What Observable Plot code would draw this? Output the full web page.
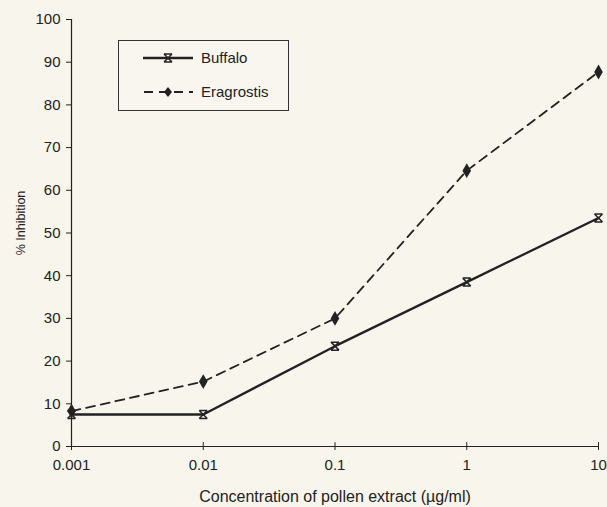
<!DOCTYPE html>
<html>
<head>
<meta charset="utf-8">
<script src="https://cdn.jsdelivr.net/npm/d3@7"></script>
<script src="https://cdn.jsdelivr.net/npm/@observablehq/plot@0.6"></script>
<style>
  html, body { margin: 0; padding: 0; background: #f7f5ec; }
  #wrap { position: relative; width: 607px; height: 507px; font-family: "Liberation Sans", Arial, sans-serif; color: #222; }
  #legend { position: absolute; left: 118px; top: 40px; width: 171px; height: 71px; border: 1px solid #333; box-sizing: border-box; background: #f8f6ef; }
  .row { position: absolute; left: 24px; display: flex; align-items: center; font-size: 15px; }
  .row svg { margin-right: 8px; }
</style>
</head>
<body>
<div id="wrap"></div>
<script>
const concentrations = [0.001, 0.01, 0.1, 1, 10];
const buffalo = [7.5, 7.5, 23.5, 38.5, 53.5];
const eragrostis = [8.3, 15.2, 30, 64.6, 87.7];
const seriesNames = ["Buffalo", "Eragrostis"];
const xTickLabels = ["0.001", "0.01", "0.1", "1", "10"];
const yTicks = [0, 10, 20, 30, 40, 50, 60, 70, 80, 90, 100];

const ink = "#222";

const hourglass = {
  draw(context, size) {
    const r = Math.sqrt(size / Math.PI);
    context.moveTo(-r, -r); context.lineTo(r, r);
    context.moveTo(r, -r); context.lineTo(-r, r);
    context.moveTo(-r, -r); context.lineTo(r, -r);
    context.moveTo(-r, r); context.lineTo(r, r);
  }
};

const rows = [];
concentrations.forEach((c, i) => {
  rows.push({series: seriesNames[0], x: c, y: buffalo[i]});
  rows.push({series: seriesNames[1], x: c, y: eragrostis[i]});
});
const buf = rows.filter(d => d.series === "Buffalo");
const era = rows.filter(d => d.series === "Eragrostis");

const chart = Plot.plot({
  width: 607,
  height: 507,
  marginLeft: 71,
  marginRight: 9,
  marginTop: 19,
  marginBottom: 61,
  style: {background: "transparent", fontFamily: "Liberation Sans, Arial, sans-serif", color: ink},
  x: {type: "log", domain: [0.001, 10]},
  y: {domain: [0, 100]},
  marks: [
    Plot.axisY({ticks: yTicks, tickSize: 5, tickPadding: 6, fontSize: 15, stroke: ink, label: null}),
    Plot.text(["% Inhibition"], {frameAnchor: "left", dx: -51, dy: -10, rotate: -90, textAnchor: "middle", fontSize: 12.5, fill: ink}),
    Plot.axisX({ticks: concentrations, tickFormat: d => xTickLabels[concentrations.indexOf(d)], tickSize: 4, tickPadding: 9, fontSize: 15, stroke: ink, label: null}),
    Plot.text(["Concentration of pollen extract (\u00b5g/ml)"], {frameAnchor: "bottom", dy: 55, fontSize: 16, fill: ink}),
    Plot.ruleX(concentrations, {x: d => d, y1: 0, y2: 0.9, stroke: ink}),
    Plot.ruleX([0.001], {y1: 0, y2: 100, stroke: ink, strokeWidth: 1.2}),
    Plot.ruleY([0], {stroke: ink, strokeWidth: 1.2}),
    Plot.line(buf, {x: "x", y: "y", stroke: ink, strokeWidth: 2.3}),
    Plot.line(era, {x: "x", y: "y", stroke: ink, strokeWidth: 1.8, strokeDasharray: "9,6"}),
    Plot.dot(buf, {x: "x", y: "y", symbol: hourglass, r: 4, stroke: ink, strokeWidth: 1.5, fill: "none"}),
    Plot.dot(era, {x: "x", y: "y", symbol: "diamond", r: 4.5, fill: ink, stroke: "none"})
  ]
});

const wrap = document.getElementById("wrap");
wrap.appendChild(chart);

const legend = document.createElement("div");
legend.id = "legend";
legend.innerHTML = `
  <div class="row" style="top:8px">
    <svg width="50" height="14"><line x1="0" y1="7" x2="50" y2="7" stroke="${ink}" stroke-width="2.3"/>
      <path d="M21,3L29,11M29,3L21,11M21,3L29,3M21,11L29,11" stroke="${ink}" stroke-width="1.5" fill="none"/></svg>
    <span>${seriesNames[0]}</span>
  </div>
  <div class="row" style="top:42px">
    <svg width="50" height="14"><line x1="0" y1="7" x2="50" y2="7" stroke="${ink}" stroke-width="1.8" stroke-dasharray="9,6" stroke-dashoffset="-1"/>
      <path d="M25,2L29,7L25,12L21,7Z" fill="${ink}"/></svg>
    <span>${seriesNames[1]}</span>
  </div>`;
wrap.appendChild(legend);
</script>
</body>
</html>
